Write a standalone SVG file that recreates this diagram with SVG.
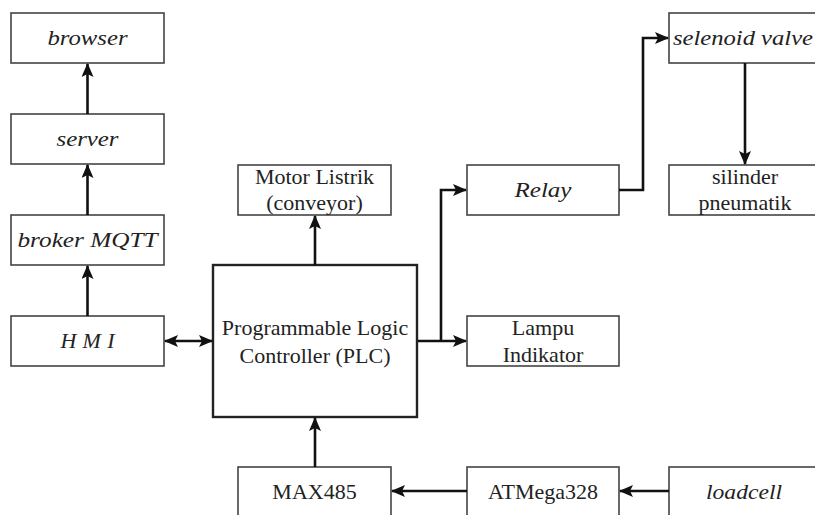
<svg xmlns="http://www.w3.org/2000/svg" width="815" height="515" viewBox="0 0 815 515" font-family="Liberation Serif, DejaVu Serif, serif">
<defs>
<style>
.box{fill:#fff;stroke:#444;stroke-width:1.6}
.plc{fill:#fff;stroke:#222;stroke-width:2.4}
.c{fill:none;stroke:#111;stroke-width:2.6}
</style>
<marker id="ah" viewBox="0 0 14 12" refX="13" refY="6" markerWidth="14" markerHeight="12" markerUnits="userSpaceOnUse" orient="auto-start-reverse">
<path d="M0,0 L14,6 L0,12 L3,6 z" fill="#111"/>
</marker>
</defs>
<rect width="815" height="515" fill="#fff"/>
<g font-family="Liberation Serif, DejaVu Serif, serif" font-size="22" fill="#222" text-anchor="middle">
<g id="browser"><rect class="box" x="11" y="13" width="153" height="50"/><text font-family="Liberation Serif, serif" font-style="italic" x="87.5" y="45" textLength="80" lengthAdjust="spacingAndGlyphs">browser</text></g>
<g id="server"><rect class="box" x="11" y="114" width="153" height="50"/><text font-family="Liberation Serif, serif" font-style="italic" x="87.5" y="146" textLength="62" lengthAdjust="spacingAndGlyphs">server</text></g>
<g id="broker"><rect class="box" x="11" y="215" width="153" height="50"/><text font-family="Liberation Serif, serif" font-style="italic" x="87.5" y="247" textLength="140" lengthAdjust="spacingAndGlyphs">broker MQTT</text></g>
<g id="hmi"><rect class="box" x="11" y="316" width="153" height="50"/><text font-family="Liberation Serif, serif" font-style="italic" x="87.5" y="348" textLength="54" lengthAdjust="spacing">HMI</text></g>
<g id="motor"><rect class="box" x="238" y="165" width="153" height="50"/><text font-family="Liberation Serif, serif" x="314.5" y="184">Motor Listrik</text><text font-family="Liberation Serif, serif" x="314.5" y="210">(conveyor)</text></g>
<g id="plc"><rect class="plc" x="213" y="265" width="204" height="152"/><text font-family="Liberation Serif, serif" x="315" y="335">Programmable Logic</text><text font-family="Liberation Serif, serif" x="315" y="363">Controller (PLC)</text></g>
<g id="relay"><rect class="box" x="467" y="165" width="152" height="50"/><text font-family="Liberation Serif, serif" font-style="italic" x="543" y="197" textLength="57" lengthAdjust="spacingAndGlyphs">Relay</text></g>
<g id="lampu"><rect class="box" x="467" y="316" width="152" height="50"/><text font-family="Liberation Serif, serif" x="543" y="335">Lampu</text><text font-family="Liberation Serif, serif" x="543" y="362">Indikator</text></g>
<g id="selenoid"><rect class="box" x="669" y="13" width="152" height="50"/><text font-family="Liberation Serif, serif" font-style="italic" x="743" y="45" textLength="140" lengthAdjust="spacingAndGlyphs">selenoid valve</text></g>
<g id="silinder"><rect class="box" x="669" y="165" width="152" height="50"/><text font-family="Liberation Serif, serif" x="745" y="184">silinder</text><text font-family="Liberation Serif, serif" x="745" y="210">pneumatik</text></g>
<g id="max485"><rect class="box" x="238" y="467" width="153" height="55"/><text font-family="Liberation Serif, serif" x="314.5" y="499">MAX485</text></g>
<g id="atmega"><rect class="box" x="467" y="467" width="152" height="55"/><text font-family="Liberation Serif, serif" x="543" y="499">ATMega328</text></g>
<g id="loadcell"><rect class="box" x="669" y="467" width="152" height="55"/><text font-family="Liberation Serif, serif" font-style="italic" x="744" y="499" textLength="76" lengthAdjust="spacingAndGlyphs">loadcell</text></g>
</g>
<g id="connectors">
<line class="c" x1="87.5" y1="114" x2="87.5" y2="64" marker-end="url(#ah)"/>
<line class="c" x1="87.5" y1="215" x2="87.5" y2="165" marker-end="url(#ah)"/>
<line class="c" x1="87.5" y1="316" x2="87.5" y2="266" marker-end="url(#ah)"/>
<line class="c" x1="165" y1="341" x2="212" y2="341" marker-start="url(#ah)" marker-end="url(#ah)"/>
<line class="c" x1="315" y1="265" x2="315" y2="216" marker-end="url(#ah)"/>
<line class="c" x1="418" y1="341" x2="466" y2="341" marker-end="url(#ah)"/>
<polyline class="c" points="441,341 441,190 466,190" marker-end="url(#ah)"/>
<polyline class="c" points="619,190 643,190 643,38 668,38" marker-end="url(#ah)"/>
<line class="c" x1="745" y1="63" x2="745" y2="164" marker-end="url(#ah)"/>
<line class="c" x1="315" y1="467" x2="315" y2="418" marker-end="url(#ah)"/>
<line class="c" x1="467" y1="491" x2="392" y2="491" marker-end="url(#ah)"/>
<line class="c" x1="669" y1="491" x2="620" y2="491" marker-end="url(#ah)"/>
</g>
</svg>
